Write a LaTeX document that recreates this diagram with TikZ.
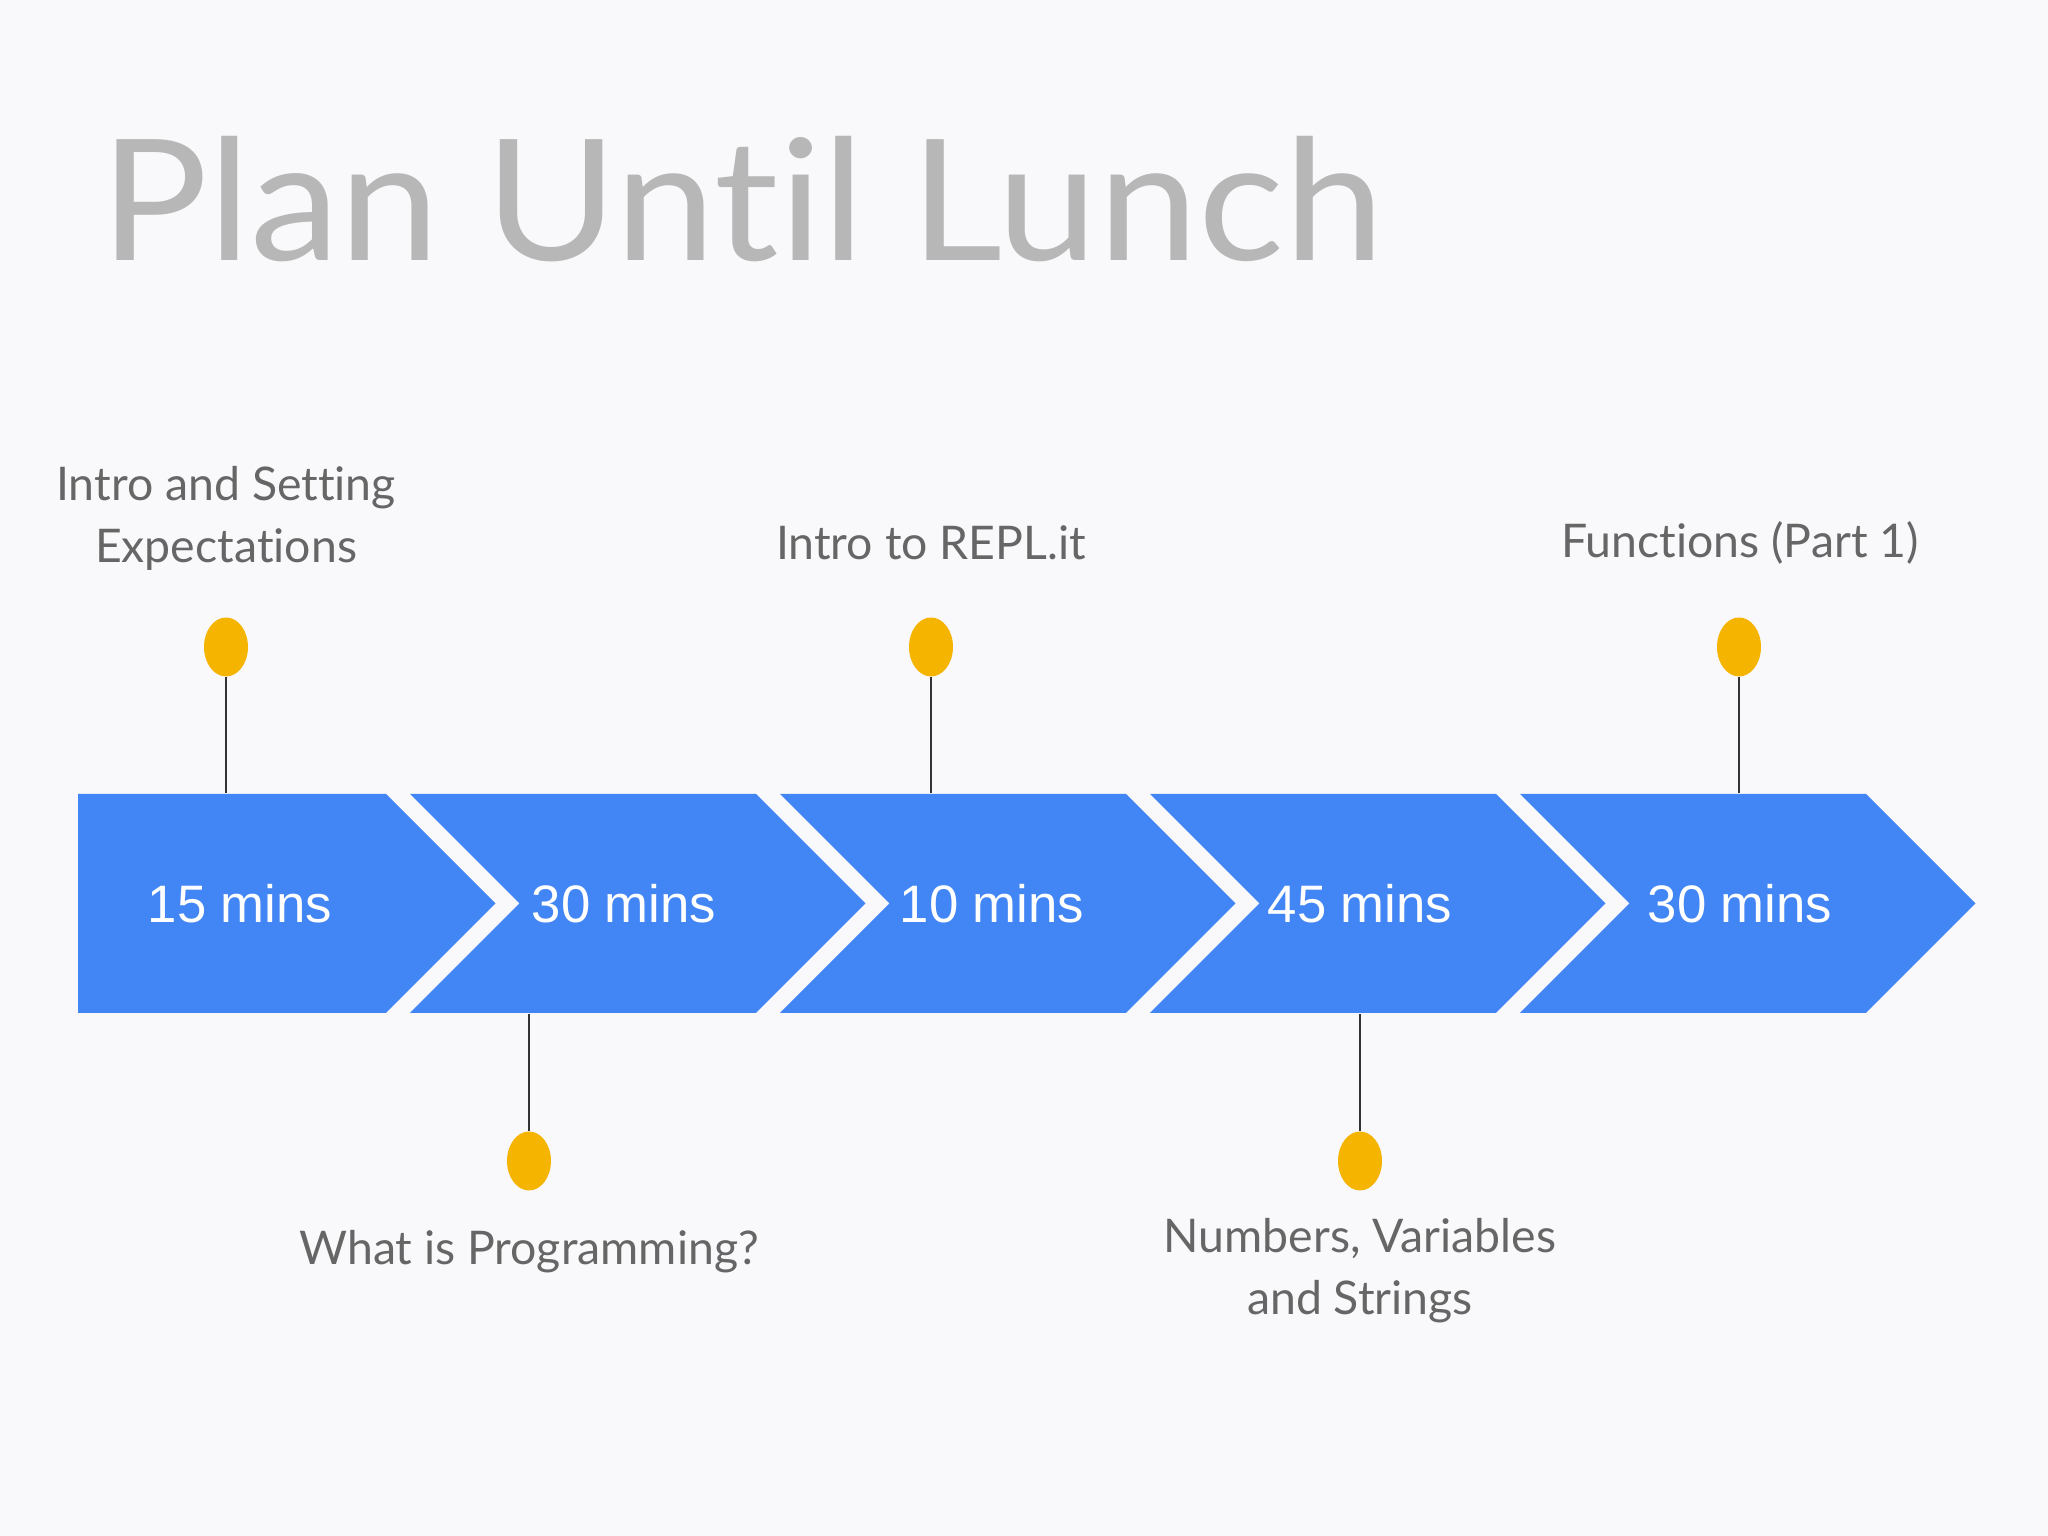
\documentclass[tikz,border=0pt]{standalone}
\usepackage{fontspec}
\setmainfont{Lato}[Ligatures=NoCommon]
\newfontfamily\titlefont{Lato}[Ligatures=NoCommon, FakeStretch=1.065]
\newfontfamily\chipfont{Liberation Sans}
\usetikzlibrary{shapes.geometric}
\definecolor{page}{HTML}{F9F9FB}
\definecolor{stepblue}{HTML}{4285F4}
\definecolor{pinyellow}{HTML}{F4B400}
\definecolor{stemgray}{HTML}{333333}
\definecolor{labelgray}{HTML}{666666}
\definecolor{titlegray}{HTML}{B7B7B7}
\tikzset{
  chevron/.style={fill=stepblue},
  mins/.style={text=white, font=\chipfont\fontsize{15}{18}\selectfont, inner sep=0pt, minimum height=2.19cm},
  pin/.style={ellipse, fill=pinyellow, minimum width=0.44cm, minimum height=0.59cm, inner sep=0pt},
  stem/.style={draw=stemgray, line width=0.6pt},
  topic/.style={text=labelgray, align=center, font=\fontsize{13.2}{17.6}\selectfont, inner sep=0pt}
}

\begin{document}
\begin{tikzpicture}[x=1cm,y=1cm]
\fill[page] (0,0) rectangle (20.48,15.36);
\useasboundingbox (0,0) rectangle (20.48,15.36);

\node[anchor=base west, text=titlegray, font=\titlefont\fontsize{48}{58}\selectfont, inner sep=0pt] (title) at (1.0,12.75) {Plan Until Lunch};

% Timeline band
\fill[chevron] (0.78,7.42) -- (3.86,7.42) -- (4.955,6.325) -- (3.86,5.23) -- (0.78,5.23) -- cycle;
\foreach \k in {1,...,4}
  \fill[chevron] ({4.10+3.70*(\k-1)},7.42) -- ++(3.46,0) -- ++(1.095,-1.095) -- ++(-1.095,-1.095) -- ++(-3.46,0) -- ++(1.095,1.095) -- cycle;

\node[mins] (s15) at (2.40,6.325) {15 mins};
\node[mins] (s30a) at (6.24,6.325) {30 mins};
\node[mins] (s10) at (9.92,6.325) {10 mins};
\node[mins] (s45) at (13.60,6.325) {45 mins};
\node[mins] (s30b) at (17.40,6.325) {30 mins};

% Pins above
\node[pin] (p1) at (2.26,8.89) {};
\node[pin] (p3) at (9.31,8.89) {};
\node[pin] (p5) at (17.39,8.89) {};
\draw[stem] (p1.south) -- (p1 |- s15.north);
\draw[stem] (p3.south) -- (p3 |- s10.north);
\draw[stem] (p5.south) -- (p5 |- s30b.north);

% Pins below
\node[pin] (p2) at (5.29,3.75) {};
\node[pin] (p4) at (13.60,3.75) {};
\draw[stem] (p2.north) -- (p2 |- s30a.south);
\draw[stem] (p4.north) -- (p4 |- s45.south);

% Topics
\node[topic] (t1) at (2.26,10.18) {Intro and Setting\\Expectations};
\node[topic] (t3) at (9.31,9.93) {Intro to REPL.it};
\node[topic] (t5) at (17.40,9.93) {Functions (Part 1)};
\node[topic] (t2) at (5.29,2.84) {What is Programming?};
\node[topic] (t4) at (13.60,2.65) {Numbers, Variables\\and Strings};
\end{tikzpicture}
\end{document}
